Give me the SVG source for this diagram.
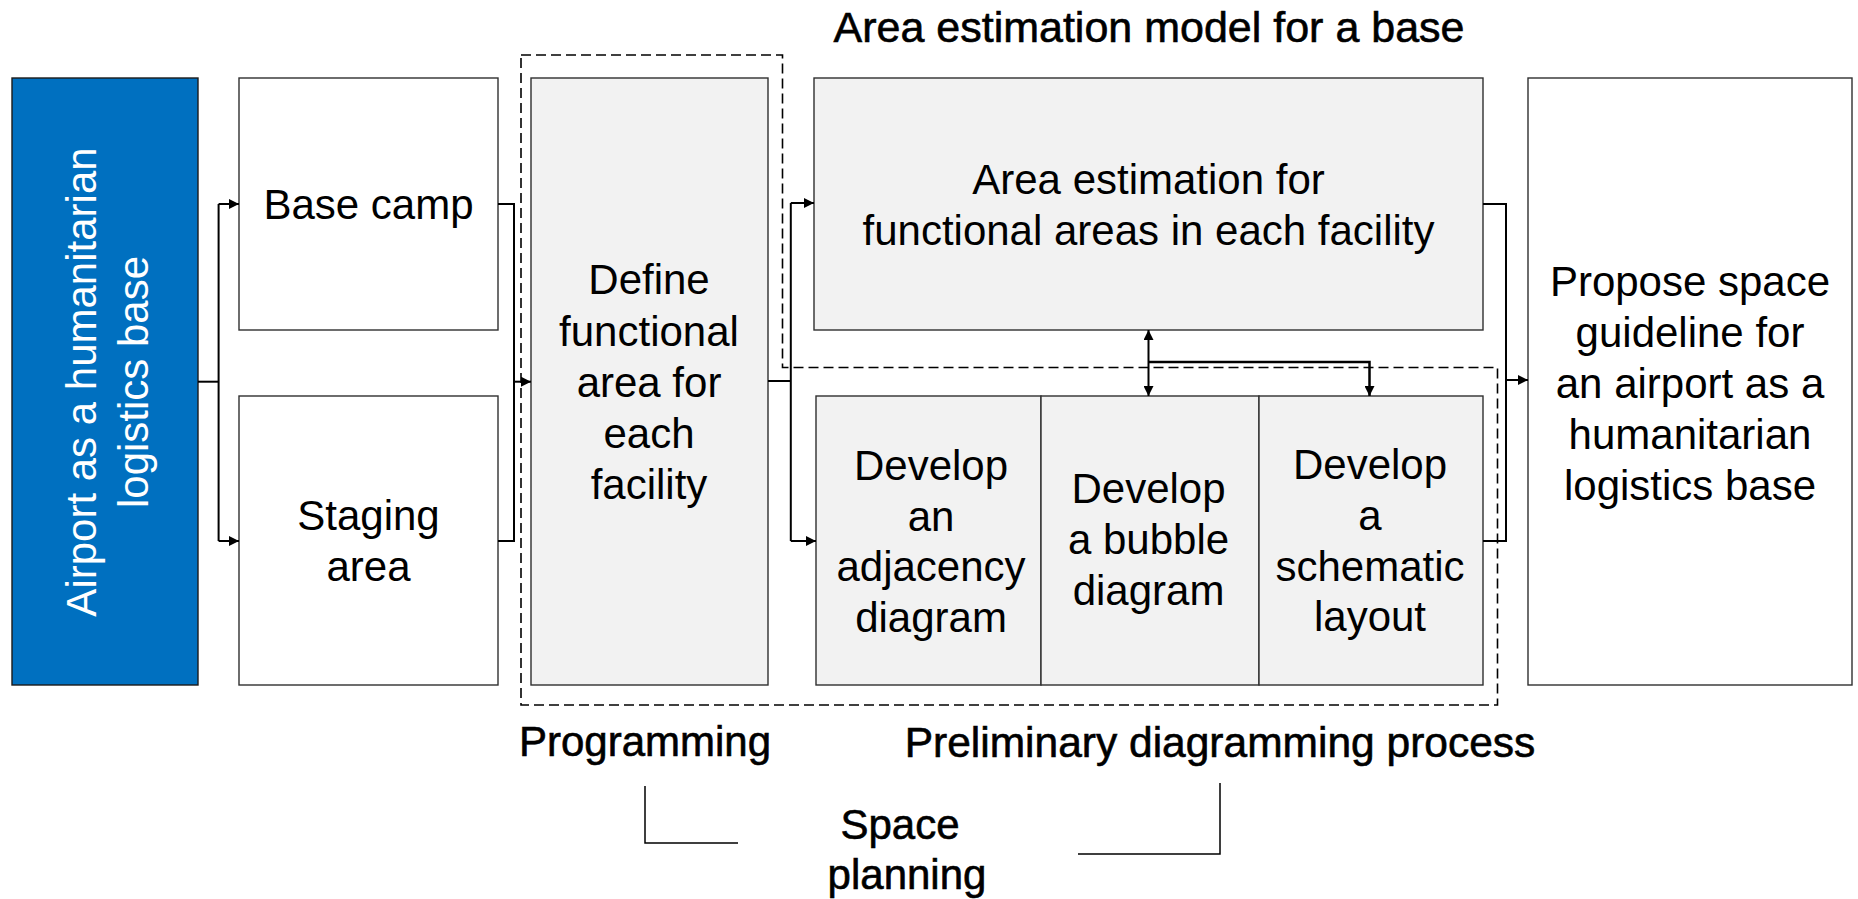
<svg xmlns="http://www.w3.org/2000/svg" width="1858" height="899" viewBox="0 0 1858 899">
<defs>
<style>
.box{fill:#ffffff;stroke:#303030;stroke-width:1.4}
.gray{fill:#f2f2f2;stroke:#303030;stroke-width:1.4}
.blue{fill:#0070c0;stroke:#1a1a1a;stroke-width:1.4}
.t{font-family:"Liberation Sans",Arial,sans-serif;font-size:42px;fill:#000000;text-anchor:middle}
.w{fill:#ffffff}
.h{stroke:#000000;stroke-width:0.6}
.c{fill:none;stroke:#000000;stroke-width:2}
.br{fill:none;stroke:#000000;stroke-width:1.5}
.dash{fill:none;stroke:#000000;stroke-width:1.6;stroke-dasharray:10 5}
</style>
<marker id="ah" markerUnits="userSpaceOnUse" markerWidth="11" markerHeight="10" refX="10" refY="5" orient="auto-start-reverse" viewBox="0 0 11 10">
<path d="M0,0 L10,5 L0,10 z" fill="#000000"/>
</marker>
</defs>
<rect width="1858" height="899" fill="#ffffff"/>

<g id="title">
<text class="t h" x="1149" y="42" style="font-size:43px">Area estimation model for a base</text>
</g>

<g id="group-outline">
<polygon class="dash" points="521,55 782.5,55 782.5,367.5 1497.5,367.5 1497.5,705 521,705"/>
</g>

<g id="node-airport">
<rect class="blue" x="12" y="78" width="186" height="607"/>
<text class="t w" transform="translate(105,382) rotate(-90)"><tspan x="0" y="-8.6">Airport as a humanitarian</tspan><tspan x="0" y="43.2">logistics base</tspan></text>
</g>

<g id="node-basecamp">
<rect class="box" x="239" y="78" width="259" height="252"/>
<text class="t" x="368.5" y="219">Base camp</text>
</g>

<g id="node-staging">
<rect class="box" x="239" y="396" width="259" height="289"/>
<text class="t"><tspan x="368.5" y="530">Staging</tspan><tspan x="368.5" y="581">area</tspan></text>
</g>

<g id="node-define">
<rect class="gray" x="531" y="78" width="237" height="607"/>
<text class="t"><tspan x="649" y="294.3">Define</tspan><tspan x="649" y="345.5">functional</tspan><tspan x="649" y="396.7">area for</tspan><tspan x="649" y="447.9">each</tspan><tspan x="649" y="499.1">facility</tspan></text>
</g>

<g id="node-area-estimation">
<rect class="gray" x="814" y="78" width="669" height="252"/>
<text class="t"><tspan x="1148.5" y="193.5">Area estimation for</tspan><tspan x="1148.5" y="244.5">functional areas in each facility</tspan></text>
</g>

<g id="node-adjacency">
<rect class="gray" x="816" y="396" width="225" height="289"/>
<text class="t"><tspan x="931" y="480">Develop</tspan><tspan x="931" y="530.5">an</tspan><tspan x="931" y="581">adjacency</tspan><tspan x="931" y="631.5">diagram</tspan></text>
</g>

<g id="node-bubble">
<rect class="gray" x="1041" y="396" width="218" height="289"/>
<text class="t"><tspan x="1148.5" y="503">Develop</tspan><tspan x="1148.5" y="554">a bubble</tspan><tspan x="1148.5" y="605">diagram</tspan></text>
</g>

<g id="node-schematic">
<rect class="gray" x="1259" y="396" width="224" height="289"/>
<text class="t"><tspan x="1370" y="479">Develop</tspan><tspan x="1370" y="530">a</tspan><tspan x="1370" y="580.5">schematic</tspan><tspan x="1370" y="631">layout</tspan></text>
</g>

<g id="node-propose">
<rect class="box" x="1528" y="78" width="324" height="607"/>
<text class="t"><tspan x="1690" y="295.5">Propose space</tspan><tspan x="1690" y="347">guideline for</tspan><tspan x="1690" y="398">an airport as a</tspan><tspan x="1690" y="449">humanitarian</tspan><tspan x="1690" y="499.5">logistics base</tspan></text>
</g>

<g id="labels">
<text class="t h" x="645" y="756">Programming</text>
<text class="t h" x="1220" y="757" style="font-size:42.5px">Preliminary diagramming process</text>
<text class="t h"><tspan x="900" y="839">Space</tspan><tspan x="907" y="889">planning</tspan></text>
</g>

<g id="connectors">
<path class="c" d="M198,381.7 H218.6"/>
<path class="c" d="M218.6,204 V541"/>
<path class="c" d="M218.6,204 H239" marker-end="url(#ah)"/>
<path class="c" d="M218.6,541 H239" marker-end="url(#ah)"/>
<path class="c" d="M498,204 H514 V541 H498"/>
<path class="c" d="M514,381.7 H531" marker-end="url(#ah)"/>
<path class="c" d="M768,381 H790.8"/>
<path class="c" d="M790.8,203 V541"/>
<path class="c" d="M790.8,203 H814" marker-end="url(#ah)"/>
<path class="c" d="M790.8,541 H816" marker-end="url(#ah)"/>
<path class="c" d="M1148.5,330 V396" marker-start="url(#ah)" marker-end="url(#ah)"/>
<path class="c" d="M1148.5,362 H1369.5 V396" style="stroke-width:2.5" marker-end="url(#ah)"/>
<path class="c" d="M1483,204 H1506 V541 H1483"/>
<path class="c" d="M1506,380 H1528" marker-end="url(#ah)"/>
<path class="br" d="M645,786 V843 H738"/>
<path class="br" d="M1220,783 V854 H1078"/>
</g>
</svg>
